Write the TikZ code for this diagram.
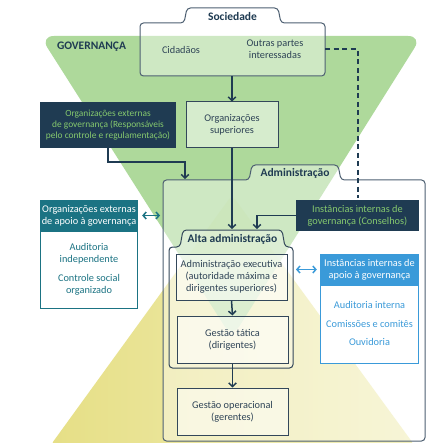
\documentclass[tikz,border=0pt]{standalone}
\usepackage{fontspec}
\setmainfont{Carlito}
\usetikzlibrary{arrows.meta}
\definecolor{navy}{HTML}{1F3B52}
\definecolor{gtri}{HTML}{A3D48E}
\definecolor{ytri}{HTML}{E6DF86}
\definecolor{ytri2}{HTML}{F2EFBC}
\definecolor{edge}{HTML}{33475A}
\definecolor{edge2}{HTML}{4E6072}
\definecolor{gtext}{HTML}{86C96E}
\definecolor{tealc}{HTML}{1B7383}
\definecolor{bluec}{HTML}{3A9AD9}
\definecolor{txt}{HTML}{2E4356}
\begin{document}
\begin{tikzpicture}[x=1pt,y=-1pt,
  lbl/.style={font=\fontsize{10.3}{12.3}\selectfont, text=txt, align=center},
  ttl/.style={font=\fontsize{11.5}{13}\selectfont\bfseries, text=navy},
  inbox/.style={draw=edge, line width=1pt, fill=white, fill opacity=0.5, text opacity=1, lbl, inner sep=0pt},
  darkbox/.style={fill=navy, text=gtext, align=center, inner sep=0pt, font=\fontsize{10.3}{12.3}\selectfont},
  tabbox/.style={draw=edge2, line width=1pt, fill=white, fill opacity=0.4, rounded corners=3.5pt},
  frame/.style={inner sep=0pt, outer sep=0pt},
  arr/.style={draw=navy, line width=1.5pt, -{Straight Barb[length=3.5pt,width=7.5pt]}},
  dbl/.style={line width=1.5pt, {Straight Barb[length=3pt,width=7pt]}-{Straight Barb[length=3pt,width=7pt]}}
]
\useasboundingbox[fill=white] (0,0) rectangle (431,443);

% background triangles
\shade[left color=ytri, right color=ytri2, rounded corners=6pt] (232,195) -- (415,446) -- (50,446) -- cycle;
\fill[gtri, fill opacity=0.88, rounded corners=14pt] (40,36) -- (422,36) -- (232,338) -- cycle;
\node[ttl] (gov) at (91.5,46.5) {GOVERNANÇA};

% tab frames
\draw[tabbox] (163,300) -- (163,180) -- (249,180) -- (252,165) -- (338,165) -- (341,180) -- (425,180) -- (425,441) -- (163,441) -- cycle;
\draw[tabbox, draw=edge, fill opacity=0.3] (169,300) -- (169,247) -- (180,247) -- (183,230) -- (282,230) -- (285,247) -- (293,247) -- (293,368) -- (169,368) -- cycle;
\draw[tabbox] (140,50) -- (140,23) -- (184,23) -- (187,8) -- (278,8) -- (281,23) -- (325,23) -- (325,76) -- (140,76) -- cycle;

\node[frame, minimum width=185, minimum height=53] (soc) at (232.5,49.5) {};
\node[frame, minimum width=262, minimum height=261] (adm) at (294,310.5) {};
\node[frame, minimum width=124, minimum height=121] (alta) at (231,307.5) {};

\node[ttl] (socT) at (232.5,16.5) {Sociedade};
\node[ttl] (admT) at (295,173.5) {Administração};
\node[ttl] (altaT) at (232.5,239) {Alta administração};

\node[lbl] (cid) at (181,50) {Cidadãos};
\node[lbl] (outras) at (275,49) {Outras partes\\interessadas};

% boxes
\node[inbox, minimum width=92, minimum height=46] (orgsup) at (232,125) {Organizações\\superiores};
\node[darkbox, minimum width=136, minimum height=46, font=\fontsize{9.4}{10.6}\selectfont] (extgov) at (108,125) {Organizações externas\\de governança (Responsáveis\\pelo controle e regulamentação)};
\node[darkbox, minimum width=123, minimum height=31] (intgov) at (357.5,215.5) {Instâncias internas de\\governança (Conselhos)};

\node[fill=tealc, text=white, align=center, inner sep=0pt, font=\fontsize{10.3}{12.3}\selectfont, minimum width=98, minimum height=31] (eah) at (89,215.5) {Organizações externas\\de apoio à governança};
\node[draw=tealc, line width=1pt, fill=white, inner sep=0pt, minimum width=97, minimum height=77] (eab) at (89,269.5) {};
\node[lbl, text=tealc] (aud) at (89,254) {Auditoria\\independente};
\node[lbl, text=tealc] (ctrl) at (89,285) {Controle social\\organizado};

\node[fill=bluec, text=white, align=center, inner sep=0pt, font=\fontsize{10.3}{12.3}\selectfont, minimum width=99, minimum height=31] (iah) at (369.5,269.5) {Instâncias internas de\\apoio à governança};
\node[draw=bluec, line width=1pt, fill=white, inner sep=0pt, minimum width=98, minimum height=78] (iab) at (369.5,324) {};
\node[lbl, text=bluec] (audi) at (369.5,305) {Auditoria interna};
\node[lbl, text=bluec] (com) at (369.5,323.5) {Comissões e comitês};
\node[lbl, text=bluec] (ouv) at (369.5,342) {Ouvidoria};

\node[inbox, minimum width=111, minimum height=46] (exec) at (231.5,277) {Administração executiva\\(autoridade máxima e\\dirigentes superiores)};
\node[inbox, minimum width=111, minimum height=47] (tat) at (232.5,339.5) {Gestão tática\\(dirigentes)};
\node[inbox, minimum width=111, minimum height=47] (oper) at (232.5,411.5) {Gestão operacional\\(gerentes)};

% connectors
\coordinate (admIn) at (185,179);
\coordinate (altaIn1) at (232,229);
\coordinate (altaIn2) at (257,229);
\coordinate (dcorner) at (intgov.north |- soc.east);
\draw[arr] (soc.south -| orgsup.north) -- (orgsup.north);
\draw[arr] (orgsup.south) -- (altaIn1);
\draw[arr] (extgov.south) -- ++(0,14) -| (admIn);
\draw[arr] (intgov.west) -| (altaIn2);
\draw[navy, line width=2pt, dash pattern=on 5pt off 3.5pt] (soc.east) -- (dcorner) -- ([yshift=2pt]intgov.north);
\draw[arr] ([yshift=-6pt]intgov.north) -- (intgov.north);
\draw[arr] (exec.south) -- (tat.north);
\draw[arr] (tat.south) -- (oper.north);
\draw[dbl, draw=tealc, shorten <=4pt, shorten >=3pt] (eah.east) -- (eah.east -| adm.west);
\draw[dbl, draw=bluec, shorten <=3pt, shorten >=3pt] (iah.west -| alta.east) -- (iah.west);
\end{tikzpicture}
\end{document}
